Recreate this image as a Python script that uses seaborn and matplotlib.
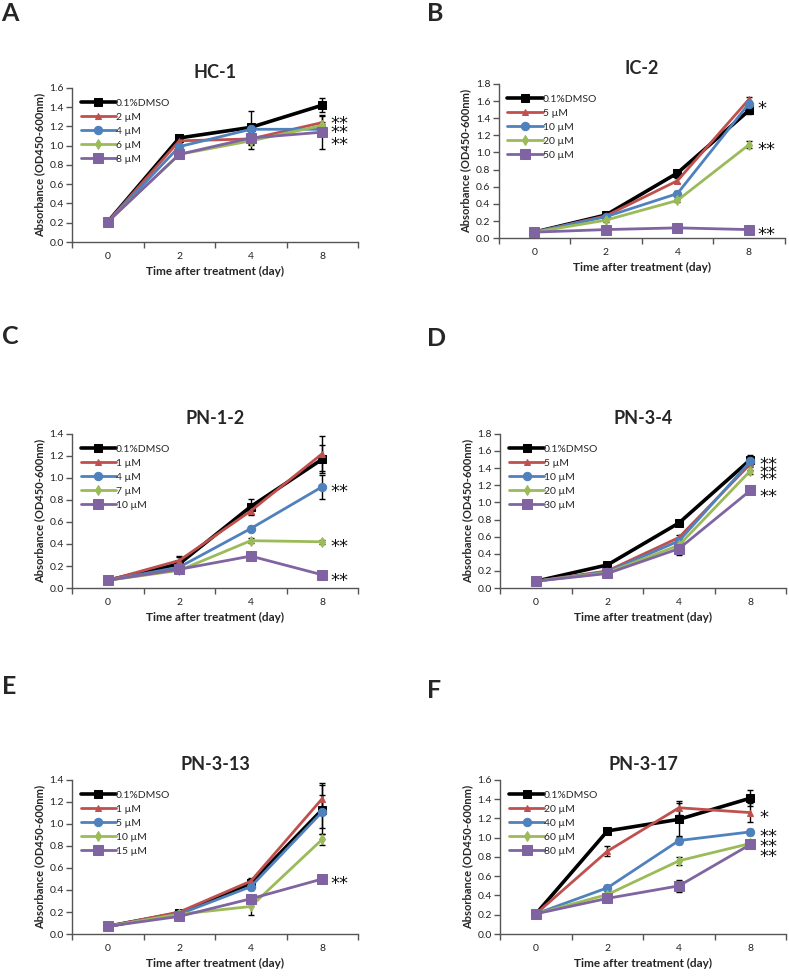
import numpy as np
import pandas as pd
import matplotlib
matplotlib.use('Agg')
import matplotlib.pyplot as plt
import seaborn as sns

sns.set_theme(style='white')
plt.rcParams['font.family'] = ['Lato', 'DejaVu Sans']

days = ['0', '2', '4', '8']
colors = ['#000000', '#C0504D', '#4F81BD', '#9BBB59', '#8064A2']
markers = ['s', '^', 'o', 'd', 's']
msizes = [6, 5, 6, 5, 7]
lwidths = [2.6, 2.0, 2.0, 2.0, 2.0]

# A - HC-1
hc1_labels = ['0.1%DMSO', '2 µM', '4 µM', '6 µM', '8 µM']
hc1_vals = [[0.21, 1.08, 1.19, 1.42],
            [0.21, 1.05, 1.07, 1.24],
            [0.21, 0.99, 1.17, 1.17],
            [0.21, 0.91, 1.05, 1.21],
            [0.21, 0.91, 1.08, 1.14]]
hc1_err = [[0.01, 0.02, 0.17, 0.07],
           [0.01, 0.02, 0.10, 0.08],
           [0.01, 0.03, 0.05, 0.05],
           [0.01, 0.02, 0.04, 0.04],
           [0.01, 0.02, 0.03, 0.17]]
hc1_stars = [('**', 1.28), ('**', 1.19), ('**', 1.06)]

# B - IC-2
ic2_labels = ['0.1%DMSO', '5 µM', '10 µM', '20 µM', '50 µM']
ic2_vals = [[0.07, 0.27, 0.76, 1.49],
            [0.07, 0.26, 0.67, 1.62],
            [0.07, 0.25, 0.52, 1.57],
            [0.07, 0.21, 0.44, 1.09],
            [0.07, 0.10, 0.12, 0.10]]
ic2_err = [[0.005, 0.02, 0.03, 0.04],
           [0.005, 0.02, 0.03, 0.03],
           [0.005, 0.02, 0.03, 0.03],
           [0.005, 0.02, 0.02, 0.04],
           [0.005, 0.01, 0.01, 0.01]]
ic2_stars = [('*', 1.57), ('**', 1.09), ('**', 0.10)]

# C - PN-1-2
pn12_labels = ['0.1%DMSO', '1 µM', '4 µM', '7 µM', '10 µM']
pn12_vals = [[0.07, 0.22, 0.74, 1.17],
             [0.07, 0.25, 0.70, 1.22],
             [0.07, 0.19, 0.54, 0.92],
             [0.07, 0.16, 0.43, 0.42],
             [0.07, 0.17, 0.29, 0.12]]
pn12_err = [[0.005, 0.07, 0.07, 0.13],
            [0.005, 0.03, 0.04, 0.16],
            [0.005, 0.02, 0.02, 0.11],
            [0.005, 0.01, 0.02, 0.02],
            [0.005, 0.01, 0.02, 0.02]]
pn12_stars = [('**', 0.92), ('**', 0.42), ('**', 0.11)]

# D - PN-3-4
pn34_labels = ['0.1%DMSO', '5 µM', '10 µM', '20 µM', '30 µM']
pn34_vals = [[0.08, 0.27, 0.76, 1.50],
             [0.08, 0.20, 0.59, 1.45],
             [0.08, 0.19, 0.55, 1.48],
             [0.08, 0.18, 0.50, 1.37],
             [0.08, 0.17, 0.46, 1.14]]
pn34_err = [[0.005, 0.02, 0.02, 0.05],
            [0.005, 0.02, 0.03, 0.07],
            [0.005, 0.02, 0.03, 0.04],
            [0.005, 0.02, 0.08, 0.04],
            [0.005, 0.02, 0.08, 0.03]]
pn34_stars = [('**', 1.50), ('**', 1.41), ('**', 1.32), ('**', 1.13)]

# E - PN-3-13
pn313_labels = ['0.1%DMSO', '1 µM', '5 µM', '10 µM', '15 µM']
pn313_vals = [[0.07, 0.19, 0.46, 1.13],
              [0.07, 0.20, 0.48, 1.23],
              [0.07, 0.18, 0.43, 1.11],
              [0.07, 0.18, 0.25, 0.86],
              [0.07, 0.16, 0.32, 0.50]]
pn313_err = [[0.005, 0.01, 0.03, 0.22],
             [0.005, 0.01, 0.03, 0.14],
             [0.005, 0.01, 0.03, 0.15],
             [0.005, 0.01, 0.08, 0.05],
             [0.005, 0.01, 0.02, 0.01]]
pn313_stars = [('**', 0.50)]

# F - PN-3-17
pn317_labels = ['0.1%DMSO', '20 µM', '40 µM', '60 µM', '80 µM']
pn317_vals = [[0.21, 1.07, 1.19, 1.41],
              [0.21, 0.86, 1.31, 1.26],
              [0.21, 0.48, 0.97, 1.06],
              [0.21, 0.41, 0.76, 0.94],
              [0.21, 0.37, 0.50, 0.93]]
pn317_err = [[0.005, 0.02, 0.17, 0.08],
             [0.005, 0.05, 0.07, 0.10],
             [0.005, 0.03, 0.04, 0.03],
             [0.005, 0.02, 0.04, 0.03],
             [0.005, 0.03, 0.06, 0.04]]
pn317_stars = [('*', 1.26), ('**', 1.06), ('**', 0.96), ('**', 0.86)]

panels = [
    ('A', 'HC-1', hc1_labels, hc1_vals, hc1_err, 1.6, hc1_stars, [0.0913, 0.752]),
    ('B', 'IC-2', ic2_labels, ic2_vals, ic2_err, 1.8, ic2_stars, [0.632, 0.756]),
    ('C', 'PN-1-2', pn12_labels, pn12_vals, pn12_err, 1.4, pn12_stars, [0.0913, 0.3975]),
    ('D', 'PN-3-4', pn34_labels, pn34_vals, pn34_err, 1.8, pn34_stars, [0.634, 0.3975]),
    ('E', 'PN-3-13', pn313_labels, pn313_vals, pn313_err, 1.4, pn313_stars, [0.0913, 0.043]),
    ('F', 'PN-3-17', pn317_labels, pn317_vals, pn317_err, 1.6, pn317_stars, [0.634, 0.043]),
]
letter_pos = {'A': (0.002, 0.998), 'B': (0.541, 0.998),
              'C': (0.002, 0.667), 'D': (0.541, 0.665),
              'E': (0.002, 0.308), 'F': (0.541, 0.304)}

fig = plt.figure(figsize=(7.89, 9.76), dpi=100)

for letter, title, labels, vals, errs, ymax, stars, (x0, y0) in panels:
    ax = fig.add_axes([x0, y0, 0.3625, 0.158])
    pos = np.arange(len(days))
    rows = []
    for lab, v, e in zip(labels, vals, errs):
        for p, d, val, er in zip(pos, days, v, e):
            rows.append({'pos': p, 'day': d, 'value': val, 'err': er, 'group': lab})
    df = pd.DataFrame(rows)

    for i, lab in enumerate(labels):
        sub = df[df['group'] == lab]
        ax.errorbar(sub['pos'], sub['value'], yerr=sub['err'], fmt='none',
                    ecolor='black', elinewidth=1.0, capsize=2.5, capthick=1.0, zorder=1)
    for i, lab in enumerate(labels):
        sub = df[df['group'] == lab]
        sns.lineplot(data=sub, x='pos', y='value', ax=ax, color=colors[i],
                     marker=markers[i], markersize=msizes[i], linewidth=lwidths[i],
                     markeredgecolor=colors[i], label=lab, zorder=3 + i * 0.1)

    # significance marks, asterisk glyph centred on the value
    for txt, yv in stars:
        ax.annotate(txt, xy=(3.12, yv), xytext=(0, -7.5), textcoords='offset points',
                    fontsize=13, ha='left', va='baseline', color='#111111',
                    family='DejaVu Sans', annotation_clip=False)

    ax.set_xlim(-0.5, 3.5)
    ax.set_ylim(0, ymax)
    ax.set_yticks(np.round(np.arange(0, ymax + 0.001, 0.2), 1))
    ax.set_yticklabels([f'{t:.1f}' for t in np.arange(0, ymax + 0.001, 0.2)])
    ax.set_xticks(pos)
    ax.set_xticklabels(days)
    ax.set_xticks(np.arange(-0.5, 3.6, 1.0), minor=True)
    ax.tick_params(axis='x', which='major', length=0, pad=7, labelsize=7.5, colors='#222222')
    ax.tick_params(axis='x', which='minor', length=4, width=1, direction='out',
                   color='#555555', bottom=True)
    ax.tick_params(axis='y', length=4, width=1, direction='out', left=True,
                   labelsize=7.5, colors='#222222', color='#555555', pad=2)
    for s in ['top', 'right']:
        ax.spines[s].set_visible(False)
    for s in ['left', 'bottom']:
        ax.spines[s].set_color('#555555')
        ax.spines[s].set_linewidth(1.0)

    ax.set_xlabel('Time after treatment (day)', fontsize=8.5, fontweight='bold', labelpad=4)
    ax.set_ylabel('Absorbance (OD450-600nm)', fontsize=8, fontweight='bold', labelpad=3)
    ax.set_title(title, fontsize=13, fontweight='bold', pad=7)

    leg = ax.legend(loc='upper left', bbox_to_anchor=(0.03, 0.93), frameon=False,
                    fontsize=7.5, handlelength=3.4, handletextpad=0.0,
                    labelspacing=0.45, borderaxespad=0, borderpad=0)

    fig.text(letter_pos[letter][0], letter_pos[letter][1], letter, fontsize=18,
             fontweight='bold', ha='left', va='top')

fig.savefig('out.png', dpi=100)
